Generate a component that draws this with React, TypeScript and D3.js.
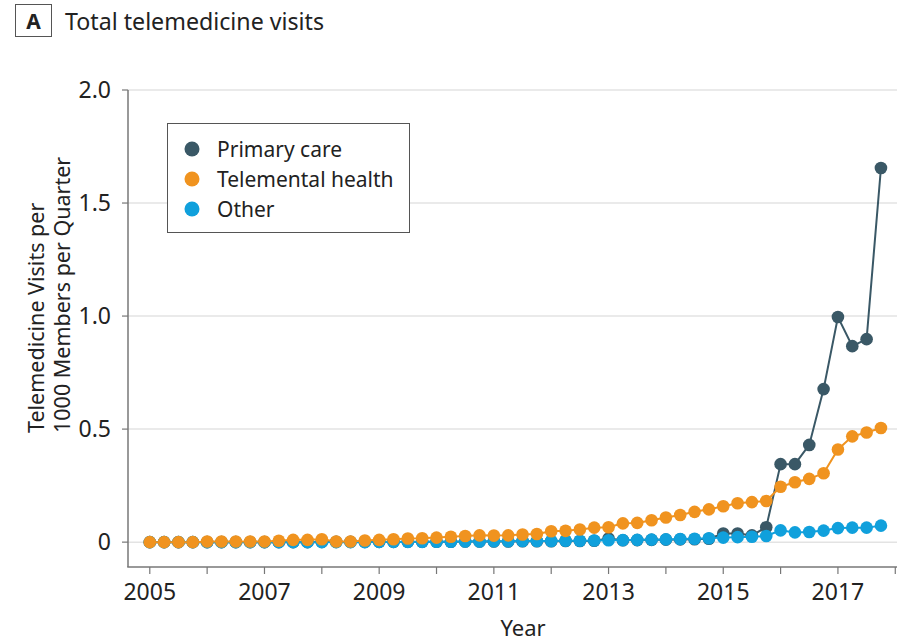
import React from "react";
import * as d3 from "d3";

const startYear = 2005;
const quartersPerYear = 4;

const primaryCare = [
  0, 0, 0, 0,
  0, 0, 0, 0,
  0, 0, 0, 0,
  0.001, 0.001, 0.001, 0.001,
  0.001, 0.001, 0.002, 0.002,
  0.002, 0.002, 0.003, 0.003,
  0.003, 0.003, 0.004, 0.004,
  0.004, 0.005, 0.005, 0.006,
  0.016, 0.008, 0.009, 0.01,
  0.011, 0.012, 0.013, 0.015,
  0.038, 0.038, 0.03, 0.066,
  0.345, 0.345, 0.43, 0.677,
  0.996, 0.867, 0.898, 1.655,
];

const telementalHealth = [
  0, 0, 0, 0,
  0.003, 0.003, 0.003, 0.003,
  0.003, 0.006, 0.01, 0.01,
  0.013, 0.003, 0.003, 0.007,
  0.01, 0.013, 0.016, 0.017,
  0.02, 0.024, 0.027, 0.03,
  0.029, 0.03, 0.034, 0.036,
  0.048, 0.05, 0.056, 0.064,
  0.066, 0.083, 0.085, 0.097,
  0.109, 0.12, 0.134, 0.145,
  0.159, 0.172, 0.177, 0.182,
  0.245, 0.265, 0.28, 0.305,
  0.41, 0.468, 0.485, 0.505,
];

const other = [
  0, 0, 0, 0,
  0, 0, 0, 0,
  0, 0, 0, 0,
  0, 0, 0, 0,
  0.001, 0.001, 0.001, 0.001,
  0.002, 0.002, 0.003, 0.003,
  0.004, 0.004, 0.005, 0.005,
  0.005, 0.006, 0.006, 0.007,
  0.008, 0.009, 0.01, 0.011,
  0.012, 0.014, 0.015, 0.017,
  0.02, 0.022, 0.024, 0.027,
  0.052, 0.043, 0.045, 0.051,
  0.062, 0.064, 0.064, 0.073,
];

const seriesNames = ["Primary care", "Telemental health", "Other"];
const seriesColors = ["#3a5866", "#f0931f", "#10a0dc"];
const yTicks = [0, 0.5, 1.0, 1.5, 2.0];
const yTickLabels = ["0", "0.5", "1.0", "1.5", "2.0"];
const xMinorTicks = [2005, 2006, 2007, 2008, 2009, 2010, 2011, 2012, 2013, 2014, 2015, 2016, 2017, 2018];
const xLabelTicks = [2005, 2007, 2009, 2011, 2013, 2015, 2017];

const FONT = "'Noto Sans', 'DejaVu Sans', sans-serif";

export default function App() {
  const x = d3.scaleLinear().domain([2004.62, 2018.03]).range([128, 897]);
  const y = d3.scaleLinear().domain([-0.11, 2.0]).range([567, 90]);

  const allSeries = [primaryCare, telementalHealth, other];
  const toPoints = (vals: number[]) =>
    vals.map((v, i) => ({ t: startYear + i / quartersPerYear, v }));
  const line = d3
    .line<{ t: number; v: number }>()
    .x((d) => x(d.t))
    .y((d) => y(d.v));

  // draw order: primary (bottom), other, telemental (top)
  const drawOrder = [0, 2, 1];
  const r = 6.3;

  return (
    <div style={{ position: "absolute", left: 0, top: 0 }}>
      <svg width={901} height={643} style={{ display: "block", background: "#fff" }}>
        {/* title */}
        <rect x={15.5} y={4.5} width={36} height={32} fill="none" stroke="#555" strokeWidth={1} />
        <text x={33.5} y={29} textAnchor="middle" fontFamily={FONT} fontWeight={700} fontSize={21} fill="#222">
          A
        </text>
        <text x={65} y={29.5} fontFamily={FONT} fontSize={23.2} fill="#222">
          Total telemedicine visits
        </text>

        {/* gridlines */}
        {yTicks.map((t) => (
          <line key={"g" + t} x1={128} x2={897} y1={y(t)} y2={y(t)} stroke="#e3e3e3" strokeWidth={1.5} />
        ))}

        {/* y axis */}
        <line x1={128} x2={128} y1={y(2.0)} y2={567} stroke="#777" strokeWidth={1.5} />
        {yTicks.map((t, i) => (
          <g key={"yt" + t}>
            <line x1={122} x2={128} y1={y(t)} y2={y(t)} stroke="#777" strokeWidth={1.2} />
            <text x={111} y={y(t)} dy="0.36em" textAnchor="end" fontFamily={FONT} fontSize={23} fill="#222">
              {yTickLabels[i]}
            </text>
          </g>
        ))}

        {/* x axis */}
        <line x1={127.25} x2={897} y1={567} y2={567} stroke="#777" strokeWidth={1.5} />
        {xMinorTicks.map((t) => (
          <line key={"xt" + t} x1={x(t)} x2={x(t)} y1={567} y2={574} stroke="#777" strokeWidth={1.2} />
        ))}
        {xLabelTicks.map((t) => (
          <text key={"xl" + t} x={x(t)} y={600} textAnchor="middle" fontFamily={FONT} fontSize={23} fill="#222">
            {t}
          </text>
        ))}

        {/* axis titles */}
        <text x={523} y={636} textAnchor="middle" fontFamily={FONT} fontSize={22} fill="#222">
          Year
        </text>
        <g transform="translate(44,433) rotate(-90)">
          <text x={0} y={0} fontFamily={FONT} fontSize={21.5} fill="#222">
            Telemedicine Visits per
          </text>
          <text x={0} y={26} fontFamily={FONT} fontSize={21.5} fill="#222">
            1000 Members per Quarter
          </text>
        </g>

        {/* series */}
        {drawOrder.map((si) => {
          const pts = toPoints(allSeries[si]);
          return (
            <g key={"s" + si}>
              <path d={line(pts) || ""} fill="none" stroke={seriesColors[si]} strokeWidth={2} />
              {pts.map((p, j) => (
                <circle key={j} cx={x(p.t)} cy={y(p.v)} r={r} fill={seriesColors[si]} />
              ))}
            </g>
          );
        })}

        {/* legend */}
        <rect x={167.5} y={123.5} width={242} height={109} fill="#fff" stroke="#555" strokeWidth={1} />
        {seriesNames.map((n, i) => (
          <g key={"l" + n}>
            <circle cx={192} cy={149 + i * 30} r={7.5} fill={seriesColors[i]} />
            <text x={217} y={149 + i * 30} dy="0.36em" fontFamily={FONT} fontSize={21} fill="#222">
              {n}
            </text>
          </g>
        ))}
      </svg>
    </div>
  );
}
